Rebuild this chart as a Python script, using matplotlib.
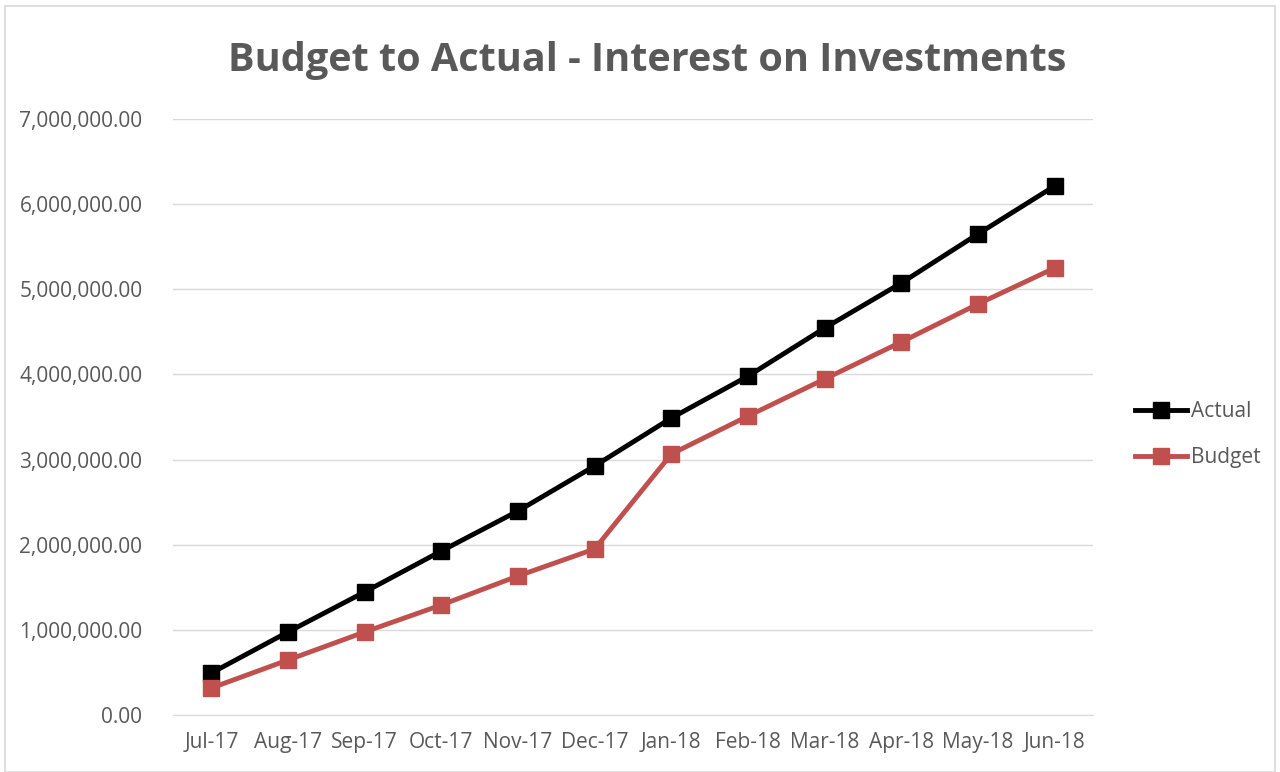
import matplotlib.pyplot as plt
from matplotlib.ticker import FuncFormatter
from matplotlib.patches import Rectangle

months = ["Jul-17", "Aug-17", "Sep-17", "Oct-17", "Nov-17", "Dec-17",
          "Jan-18", "Feb-18", "Mar-18", "Apr-18", "May-18", "Jun-18"]
actual = [493000, 975000, 1445000, 1926000, 2396000, 2925000,
          3488000, 3980000, 4545000, 5074000, 5650000, 6213000]
budget = [317000, 646000, 975000, 1292000, 1633000, 1950000,
          3065000, 3511000, 3946000, 4381000, 4827000, 5250000]

plt.rcParams['font.family'] = ['Open Sans', 'DejaVu Sans']

fig = plt.figure(figsize=(12.8, 7.72), dpi=100)
ax = fig.add_axes([173/1280, 1 - 715/772, (1093-173)/1280, (715-119)/772])

x = range(len(months))
ax.plot(x, actual, color="black", lw=3.5, marker="s", ms=11, label="Actual")
ax.plot(x, budget, color="#C0504D", lw=3.5, marker="s", ms=11, label="Budget")

ax.set_ylim(0, 7000000)
ax.set_xlim(-0.5, 11.5)
ax.set_yticks(range(0, 7000001, 1000000))
ax.yaxis.set_major_formatter(FuncFormatter(lambda v, p: f"{v:,.2f}"))
ax.set_xticks(list(x))
ax.set_xticklabels(months)
ax.tick_params(axis="y", length=0, labelsize=15, colors="#595959", pad=22)
ax.tick_params(axis="x", length=0, labelsize=15, colors="#595959", pad=12)
ax.grid(axis="y", color="#D9D9D9", lw=1)
ax.set_axisbelow(True)
for s in ["top", "right", "left"]:
    ax.spines[s].set_visible(False)
ax.spines["bottom"].set_color("#D9D9D9")

fig.text(647/1280, 1 - 60/772, "Budget to Actual - Interest on Investments",
         ha="center", va="center", fontsize=28.5, fontweight="bold", color="#595959")

ax.legend(loc="center left", bbox_to_anchor=(1.025, 0.47), frameon=False,
          fontsize=15, labelcolor="#595959", handlelength=2.5, handletextpad=0.2,
          labelspacing=1.2)

fig.patches.append(Rectangle((5/1280, 0), 1270/1280, 1 - 6/772, transform=fig.transFigure,
                             fill=False, edgecolor="#D9D9D9", lw=1.2))

fig.savefig("out.png", dpi=100)
